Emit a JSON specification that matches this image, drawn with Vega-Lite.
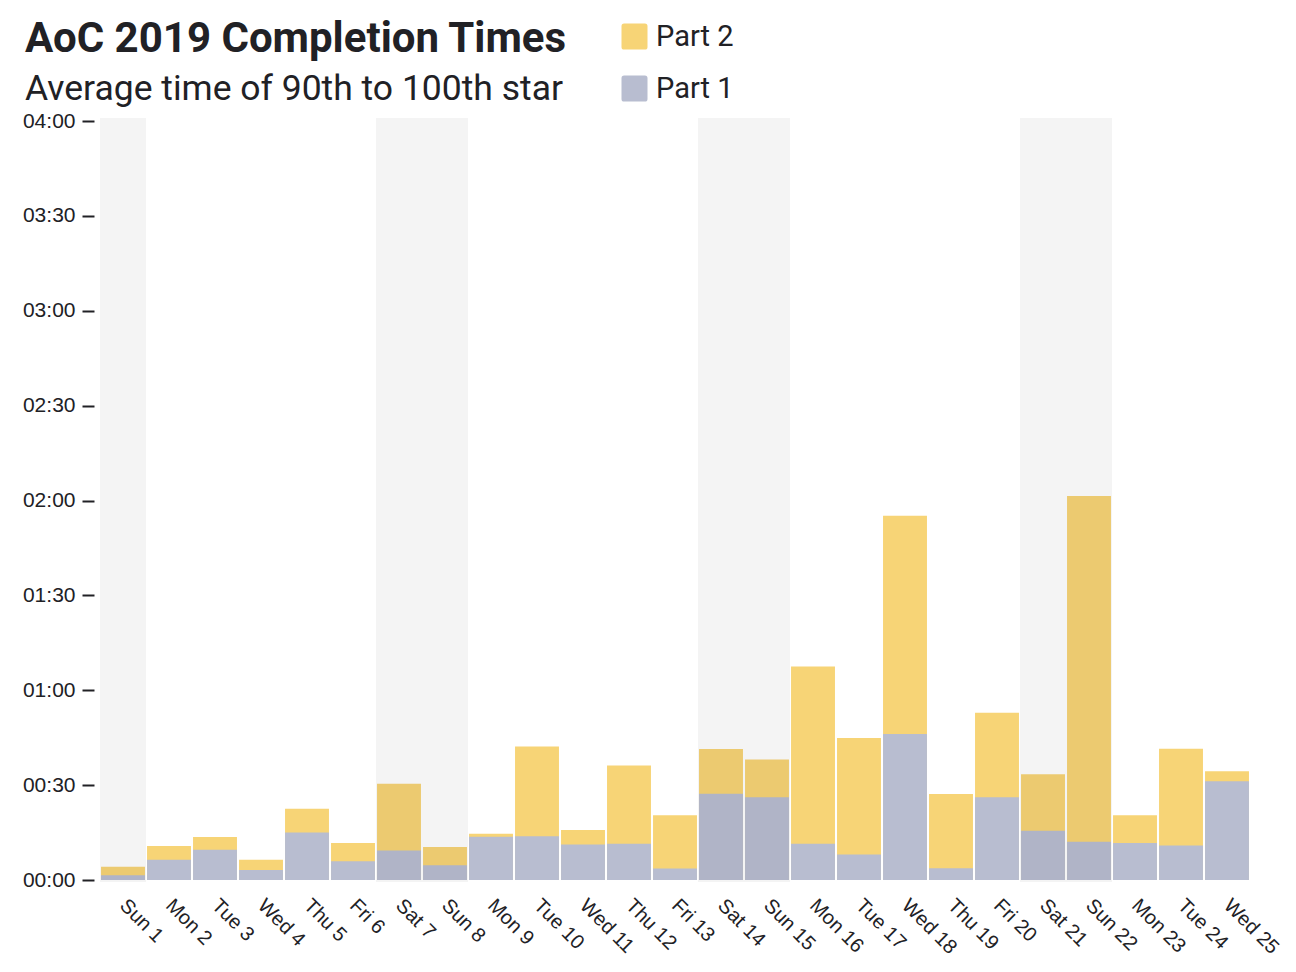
{
  "$schema": "https://vega.github.io/schema/vega-lite/v6.json",
  "width": 1150,
  "height": 759,
  "autosize": "none",
  "padding": {"left": 100, "top": 121, "right": 46, "bottom": 92},
  "background": "white",
  "config": {"view": {"stroke": null}},
  "title": {
    "text": "AoC 2019 Completion Times",
    "subtitle": "Average time of 90th to 100th star",
    "anchor": "start",
    "frame": "group",
    "dx": -75,
    "offset": -86,
    "font": "Roboto",
    "fontSize": 42,
    "fontWeight": "bold",
    "color": "#212125",
    "subtitleFont": "Roboto",
    "subtitleFontSize": 35.5,
    "subtitleColor": "#212125",
    "subtitlePadding": 11
  },
  "data": {
    "values": [
      {"day": "Sun 1", "weekend": true, "Part 2": 4.2, "Part 1": 1.5},
      {"day": "Mon 2", "weekend": false, "Part 2": 10.75, "Part 1": 6.4},
      {"day": "Tue 3", "weekend": false, "Part 2": 13.6, "Part 1": 9.6},
      {"day": "Wed 4", "weekend": false, "Part 2": 6.4, "Part 1": 3.2},
      {"day": "Thu 5", "weekend": false, "Part 2": 22.5, "Part 1": 15.0},
      {"day": "Fri 6", "weekend": false, "Part 2": 11.7, "Part 1": 5.9},
      {"day": "Sat 7", "weekend": true, "Part 2": 30.4, "Part 1": 9.3},
      {"day": "Sun 8", "weekend": true, "Part 2": 10.4, "Part 1": 4.7},
      {"day": "Mon 9", "weekend": false, "Part 2": 14.6, "Part 1": 13.7},
      {"day": "Tue 10", "weekend": false, "Part 2": 42.2, "Part 1": 13.8},
      {"day": "Wed 11", "weekend": false, "Part 2": 15.8, "Part 1": 11.2},
      {"day": "Thu 12", "weekend": false, "Part 2": 36.2, "Part 1": 11.5},
      {"day": "Fri 13", "weekend": false, "Part 2": 20.5, "Part 1": 3.6},
      {"day": "Sat 14", "weekend": true, "Part 2": 41.4, "Part 1": 27.3},
      {"day": "Sun 15", "weekend": true, "Part 2": 38.1, "Part 1": 26.2},
      {"day": "Mon 16", "weekend": false, "Part 2": 67.5, "Part 1": 11.5},
      {"day": "Tue 17", "weekend": false, "Part 2": 44.9, "Part 1": 8.1},
      {"day": "Wed 18", "weekend": false, "Part 2": 115.2, "Part 1": 46.2},
      {"day": "Thu 19", "weekend": false, "Part 2": 27.2, "Part 1": 3.7},
      {"day": "Fri 20", "weekend": false, "Part 2": 52.9, "Part 1": 26.2},
      {"day": "Sat 21", "weekend": true, "Part 2": 33.4, "Part 1": 15.6},
      {"day": "Sun 22", "weekend": true, "Part 2": 121.4, "Part 1": 12.1},
      {"day": "Mon 23", "weekend": false, "Part 2": 20.5, "Part 1": 11.7},
      {"day": "Tue 24", "weekend": false, "Part 2": 41.5, "Part 1": 10.9},
      {"day": "Wed 25", "weekend": false, "Part 2": 34.4, "Part 1": 31.2}
    ]
  },
  "encoding": {
    "x": {
      "field": "day",
      "type": "nominal",
      "sort": null,
      "scale": {"paddingInner": 0, "paddingOuter": 0},
      "axis": {
        "title": null,
        "domain": false,
        "ticks": false,
        "labelAngle": 45,
        "labelAlign": "left",
        "labelBaseline": "middle",
        "labelPadding": 22,
        "labelFont": "Liberation Sans",
        "labelFontSize": 20,
        "labelColor": "#212125"
      }
    }
  },
  "layer": [
    {
      "transform": [{"fold": ["Part 2", "Part 1"], "as": ["part", "minutes"]}],
      "mark": {"type": "bar", "width": {"band": 0.955}},
      "encoding": {
        "y": {
          "field": "minutes",
          "type": "quantitative",
          "stack": null,
          "scale": {"domain": [0, 240], "nice": false},
          "axis": {
            "title": null,
            "domain": false,
            "grid": false,
            "values": [0, 30, 60, 90, 120, 150, 180, 210, 240],
            "labelExpr": "utcFormat(datum.value * 60000, '%H:%M')",
            "tickSize": 12,
            "tickWidth": 2,
            "tickColor": "#212125",
            "offset": 6,
            "labelPadding": 7,
            "labelFont": "Liberation Sans",
            "labelFontSize": 21,
            "labelColor": "#212125"
          }
        },
        "color": {
          "field": "part",
          "type": "nominal",
          "scale": {"domain": ["Part 2", "Part 1"], "range": ["#F7D476", "#B8BDD0"]},
          "legend": {
            "title": null,
            "orient": "none",
            "legendX": 520,
            "legendY": -99,
            "symbolType": "M-0.8,-1L0.8,-1Q1,-1 1,-0.8L1,0.8Q1,1 0.8,1L-0.8,1Q-1,1 -1,0.8L-1,-0.8Q-1,-1 -0.8,-1Z",
            "symbolSize": 676,
            "symbolOpacity": 1,
            "symbolStrokeWidth": 0,
            "labelFont": "Roboto",
            "labelFontSize": 29,
            "labelColor": "#212125",
            "labelOffset": 7,
            "rowPadding": 22
          }
        }
      }
    },
    {
      "transform": [{"filter": "datum.weekend"}],
      "mark": {"type": "bar", "color": "black", "opacity": 0.045, "width": {"band": 1}, "yOffset": -3, "y2Offset": 2},
      "encoding": {
        "y": {"datum": 240},
        "y2": {"datum": 0}
      }
    }
  ]
}
